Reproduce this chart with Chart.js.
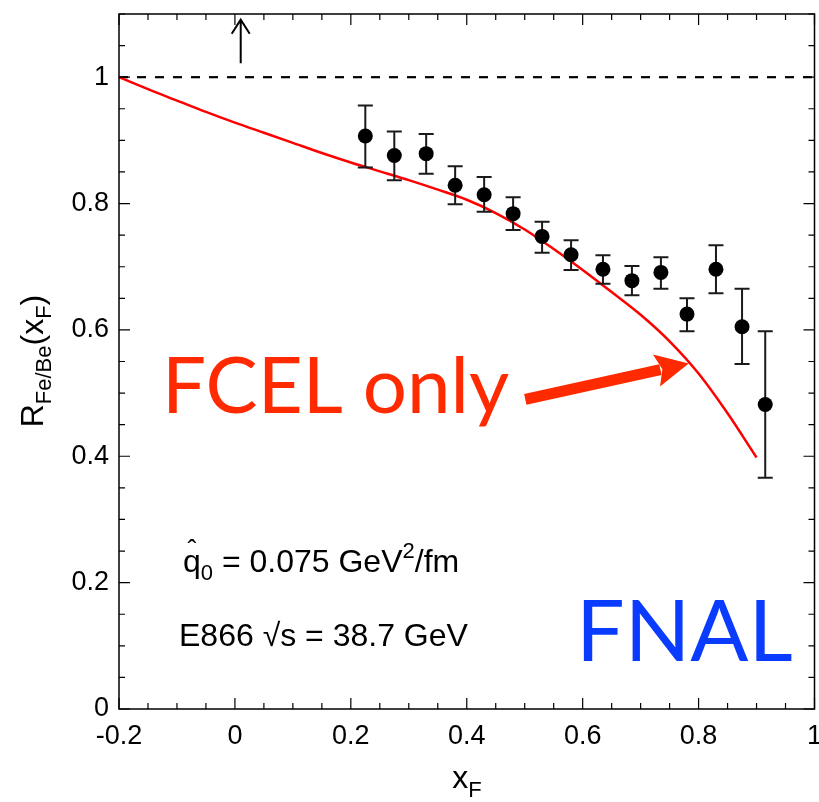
<!DOCTYPE html>
<html><head><meta charset="utf-8">
<script src="https://cdn.jsdelivr.net/npm/chart.js@4/dist/chart.umd.min.js"></script>
<style>html,body{margin:0;padding:0;background:#fff;overflow:hidden}#wrap{position:relative;width:819px;height:802px}</style>
</head><body><div id="wrap"><canvas id="c" width="819" height="802"></canvas></div>
<script>
// ---- data ----
const xF      = [0.225,0.275,0.33,0.38,0.43,0.48,0.53,0.58,0.635,0.685,0.735,0.78,0.83,0.875,0.915];
const ratio   = [0.907,0.876,0.879,0.829,0.814,0.784,0.748,0.719,0.696,0.678,0.691,0.625,0.696,0.605,0.482];
const errHigh = [0.955,0.914,0.910,0.859,0.842,0.810,0.771,0.742,0.718,0.701,0.715,0.650,0.734,0.665,0.598];
const errLow  = [0.857,0.837,0.847,0.799,0.787,0.758,0.722,0.695,0.673,0.655,0.665,0.598,0.658,0.546,0.366];
const curveX  = [-0.2,-0.15,-0.1,-0.05,0,0.05,0.1,0.15,0.2,0.25,0.3,0.35,0.4,0.45,0.5,0.55,0.6,0.65,0.7,0.75,0.8,0.85,0.9];
const curveY  = [1.0,0.981,0.963,0.945,0.928,0.912,0.896,0.880,0.865,0.851,0.837,0.822,0.806,0.785,0.759,0.728,0.695,0.660,0.624,0.582,0.531,0.468,0.398];
const refX    = [-0.2,1.0];
const refY    = [1,1];
const xTicks  = [-0.2,0,0.2,0.4,0.6,0.8,1.0];
const yTicks  = [0,0.2,0.4,0.6,0.8,1.0];
const upArrow = {x:0.01, y0:1.022, y1:1.091};
const fcelArrow = {x0:0.501, y0:0.490, x1:0.783, y1:0.547};

const FONT = '"Liberation Sans", Arial, Helvetica, sans-serif';
const fmt = v => String(Number(v.toFixed(1)));

const deco = {
  id:'deco',
  afterDatasetsDraw(chart){
    const ctx = chart.ctx, xs = chart.scales.x, ys = chart.scales.y, a = chart.chartArea;
    const X = v => xs.getPixelForValue(v), Y = v => ys.getPixelForValue(v);
    ctx.save();
    // error bars
    ctx.strokeStyle = '#1a1a1a'; ctx.lineWidth = 2;
    for (let i=0;i<xF.length;i++){
      const px = X(xF[i]), ph = Y(errHigh[i]), pl = Y(errLow[i]);
      ctx.beginPath();
      ctx.moveTo(px,ph); ctx.lineTo(px,pl);
      ctx.moveTo(px-7.5,ph); ctx.lineTo(px+7.5,ph);
      ctx.moveTo(px-7.5,pl); ctx.lineTo(px+7.5,pl);
      ctx.stroke();
    }
    // points on top
    ctx.fillStyle = '#000';
    for (let i=0;i<xF.length;i++){
      ctx.beginPath(); ctx.arc(X(xF[i]),Y(ratio[i]),7.5,0,Math.PI*2); ctx.fill();
    }
    // up arrow
    ctx.strokeStyle='#000'; ctx.lineWidth=2;
    const ax=X(upArrow.x), ay0=Y(upArrow.y0), ay1=Y(upArrow.y1);
    ctx.beginPath(); ctx.moveTo(ax,ay0); ctx.lineTo(ax,ay1);
    ctx.moveTo(ax-9,ay1+14); ctx.lineTo(ax,ay1); ctx.lineTo(ax+9,ay1+14); ctx.stroke();
    // frame
    ctx.lineWidth=1.5; ctx.strokeStyle='#000';
    ctx.strokeRect(a.left,a.top,a.right-a.left,a.bottom-a.top);
    // inner ticks
    ctx.lineWidth=1.2;
    ctx.beginPath();
    for (let k=0;k<=24;k++){
      const v=-0.2+k*0.05, px=X(v), L=(k%4===0)?11:6;
      ctx.moveTo(px,a.bottom); ctx.lineTo(px,a.bottom-L);
      ctx.moveTo(px,a.top); ctx.lineTo(px,a.top+L);
    }
    for (let k=0;k<=22;k++){
      const v=k*0.05, py=Y(v), L=(k%4===0)?11:6;
      ctx.moveTo(a.left,py); ctx.lineTo(a.left+L,py);
      ctx.moveTo(a.right,py); ctx.lineTo(a.right-L,py);
    }
    ctx.stroke();
    // red arrow
    const tx=X(fcelArrow.x0), ty=Y(fcelArrow.y0), hx=X(fcelArrow.x1), hy=Y(fcelArrow.y1);
    const dx=hx-tx, dy=hy-ty, len=Math.hypot(dx,dy), ux=dx/len, uy=dy/len;
    const bx=hx-ux*33, by=hy-uy*33;
    ctx.strokeStyle='#ff2a00'; ctx.fillStyle='#ff2a00'; ctx.lineWidth=11; ctx.lineCap='butt';
    ctx.beginPath(); ctx.moveTo(tx,ty); ctx.lineTo(bx+ux*4,by+uy*4); ctx.stroke();
    ctx.beginPath(); ctx.moveTo(hx,hy);
    ctx.lineTo(bx-uy*16.5,by+ux*16.5); ctx.lineTo(bx+ux*6,by+uy*6); ctx.lineTo(bx+uy*16.5,by-ux*16.5);
    ctx.closePath(); ctx.fill();
    // big labels
    ctx.textBaseline='alphabetic'; ctx.textAlign='left';
    ctx.fillStyle='#ff2a00'; ctx.font='78px Lato, sans-serif';
    ctx.fillText('FCEL only',162,413);
    ctx.fillStyle='#0a3cff'; ctx.font='86px Lato, sans-serif';
    ctx.fillText('FNAL',576,661);
    // annotations
    ctx.fillStyle='#000';
    let x=183, b=572;
    ctx.font='32px '+FONT; ctx.fillText('q',x,b);
    const qw=ctx.measureText('q').width;
    ctx.font='27px '+FONT; ctx.textAlign='center'; ctx.fillText('\u02C6',x+qw/2,b-13); ctx.textAlign='left';
    x+=qw;
    ctx.font='22px '+FONT; ctx.fillText('0',x,b+8); x+=ctx.measureText('0').width;
    ctx.font='32px '+FONT; ctx.fillText(' = 0.075 GeV',x,b); x+=ctx.measureText(' = 0.075 GeV').width;
    ctx.font='22px '+FONT; ctx.fillText('2',x,b-14); x+=ctx.measureText('2').width;
    ctx.font='32px '+FONT; ctx.fillText('/fm',x,b);
    ctx.fillText('E866 \u221As = 38.7 GeV',179,646);
    // x title
    ctx.font='32px '+FONT;
    const xw=ctx.measureText('x').width; ctx.font='22px '+FONT; const fw=ctx.measureText('F').width;
    let sx=467-(xw+fw)/2;
    ctx.font='32px '+FONT; ctx.fillText('x',sx,788);
    ctx.font='22px '+FONT; ctx.fillText('F',sx+xw,797);
    // y title
    const parts=[['R',32,0],['Fe/Be',22,8],['(x',32,0],['F',22,8],[')',32,0]];
    let tot=0; parts.forEach(p=>{ctx.font=p[1]+'px '+FONT; p.push(ctx.measureText(p[0]).width); tot+=p[3];});
    ctx.translate(43,361+tot/2); ctx.rotate(-Math.PI/2);
    let cx=0; parts.forEach(p=>{ctx.font=p[1]+'px '+FONT; ctx.fillText(p[0],cx,p[2]); cx+=p[3];});
    ctx.restore();
  }
};

new Chart(document.getElementById('c'), {
  type:'scatter',
  data:{datasets:[
    {label:'curve', type:'line', data:curveX.map((v,i)=>({x:v,y:curveY[i]})), borderColor:'#ff0000', borderWidth:2.5, pointRadius:0, cubicInterpolationMode:'monotone', fill:false},
    {label:'ref', type:'line', data:refX.map((v,i)=>({x:v,y:refY[i]})), borderColor:'#000', borderWidth:2.2, borderDash:[9,9], pointRadius:0, fill:false}
  ]},
  options:{
    responsive:false, animation:false, devicePixelRatio:1,
    layout:{padding:{top:14,right:4.5,left:0,bottom:0}},
    plugins:{legend:{display:false}, tooltip:{enabled:false}},
    scales:{
      x:{type:'linear', min:-0.2, max:1.0,
        afterBuildTicks:s=>{s.ticks=xTicks.map(v=>({value:v}));},
        afterFit:s=>{s.height=93; s.paddingLeft=0; s.paddingRight=0;},
        grid:{display:false, drawTicks:false}, border:{display:false},
        ticks:{callback:v=>fmt(v), color:'#000', font:{size:27,family:FONT}, padding:11, maxRotation:0, autoSkip:false}},
      y:{type:'linear', min:0, max:1.1,
        afterBuildTicks:s=>{s.ticks=yTicks.map(v=>({value:v}));},
        afterFit:s=>{s.width=119; s.paddingTop=0; s.paddingBottom=0;},
        grid:{display:false, drawTicks:false}, border:{display:false},
        ticks:{callback:v=>fmt(v), color:'#000', font:{size:27,family:FONT}, padding:10, autoSkip:false}}
    }
  },
  plugins:[deco]
});
</script></body></html>
